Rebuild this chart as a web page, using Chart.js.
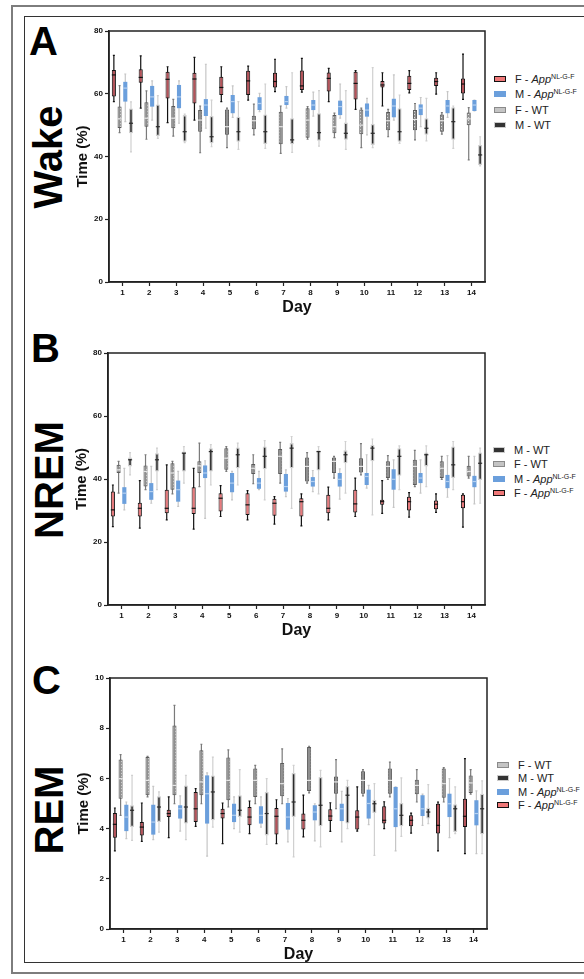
<!DOCTYPE html>
<html>
<head>
<meta charset="utf-8">
<script src="https://cdn.jsdelivr.net/npm/chart.js@4.4.1/dist/chart.umd.min.js"></script>
<style>
  body { margin: 0; background: #fff; font-family: "Liberation Sans", Arial, sans-serif; }
  #page { position: relative; width: 584px; height: 979px; overflow: hidden; }
  .outer { position: absolute; left: 11px; top: 5px; width: 620px; height: 965px; border: 2px solid #7d7d7d; }
  .inner { position: absolute; left: 24px; top: 16px; width: 620px; height: 945px; border: 1px solid #333; }
  .letter { position: absolute; font-weight: bold; font-size: 40px; line-height: 40px; color: #000; }
  .vname { position: absolute; font-weight: bold; font-size: 40px; color: #000; white-space: nowrap;
           transform: translate(-50%, -50%) rotate(-90deg); }
  .box { position: absolute; }
  .legend { position: absolute; font-size: 11px; color: #222; }
  .legend .row { white-space: nowrap; }
  .legend sup { font-size: 7px; vertical-align: 4px; line-height: 0; }
  .sw { display: inline-block; width: 12px; height: 6px; margin-right: 9px; box-sizing: border-box; vertical-align: 1px; }
  .sw.fapp { background: #ef7878; border: 1.5px solid #111; }
  .sw.mapp { background: #6b9fdc; }
  .sw.fwt { background: #c4c4c4; border: 1.5px solid #8a8a8a; }
  .sw.mwt { background: #333; border: 1px solid #ccc; }
</style>
</head>
<body>
<div id="page">
  <div class="outer"></div>
  <div class="inner"></div>

  <div class="letter" style="left:29px;top:21px">A</div>
  <div class="vname" style="left:48px;top:157px">Wake</div>
  <div class="box" style="left:74px;top:20px"><canvas id="chartA" width="413" height="297"></canvas></div>
  <div class="legend" style="left:494px;top:72px;line-height:15.4px">
    <div class="row"><span class="sw fapp"></span>F - <i>App</i><sup>NL-G-F</sup></div>
    <div class="row"><span class="sw mapp"></span>M - <i>App</i><sup>NL-G-F</sup></div>
    <div class="row"><span class="sw fwt"></span>F - WT</div>
    <div class="row"><span class="sw mwt"></span>M - WT</div>
  </div>

  <div class="letter" style="left:31px;top:328px">B</div>
  <div class="vname" style="left:49px;top:480px">NREM</div>
  <div class="box" style="left:73px;top:342px"><canvas id="chartB" width="414" height="298"></canvas></div>
  <div class="legend" style="left:493px;top:443px;line-height:14.4px">
    <div class="row"><span class="sw mwt"></span>M - WT</div>
    <div class="row"><span class="sw fwt"></span>F - WT</div>
    <div class="row"><span class="sw mapp"></span>M - <i>App</i><sup>NL-G-F</sup></div>
    <div class="row"><span class="sw fapp"></span>F - <i>App</i><sup>NL-G-F</sup></div>
  </div>

  <div class="letter" style="left:32px;top:660px">C</div>
  <div class="vname" style="left:49px;top:810px">REM</div>
  <div class="box" style="left:75px;top:667px"><canvas id="chartC" width="414" height="297"></canvas></div>
  <div class="legend" style="left:497px;top:759px;line-height:13.4px">
    <div class="row"><span class="sw fwt"></span>F - WT</div>
    <div class="row"><span class="sw mwt"></span>M - WT</div>
    <div class="row"><span class="sw mapp"></span>M - <i>App</i><sup>NL-G-F</sup></div>
    <div class="row"><span class="sw fapp"></span>F - <i>App</i><sup>NL-G-F</sup></div>
  </div>
</div>

<script>
// days on the x axis
var days = ['1', '2', '3', '4', '5', '6', '7', '8', '9', '10', '11', '12', '13', '14'];

// each entry: [min, q1, median, q3, max] per day
var wakeFApp = [[57.5,59.1,66,67.6,72.2],[55.4,63.5,65.2,67.8,72.1],[50.8,58.5,64.6,67,68.6],[51.6,56.9,64.7,66.7,71.6],[57.5,59.6,62,65.4,68.6],[58,59.6,64.1,67.3,68.8],[60.7,62,63.9,66.7,71],[60.5,61.2,62.5,67.4,71.3],[57.5,60.7,64.9,66.8,68.1],[55,58.2,63.3,67,67.4],[56.1,62,62.8,64.1,66.7],[60.3,61.2,63.3,65.7,67.4],[59.9,62.5,63.9,65.1,66.7],[58.2,60.1,63.1,64.9,72.6]];
var wakeFWT = [[47.6,49.1,52,55.9,62.6],[45.5,49.5,52.2,57.3,60.9],[46.5,49,52.2,56.1,58.2],[41.2,47.9,51.6,54.8,56.1],[42.8,46.9,49.5,55,55.4],[46.9,48.7,51.4,53,56.7],[41,43.9,49.5,54.3,56.1],[45.5,46,51.6,55.4,55.9],[46,47.4,49.5,53.2,53.8],[42.8,47.1,50,55,55.4],[46.3,48.4,51.4,54.2,55],[45.3,48.4,51.8,54.8,56.9],[47.1,47.9,51.4,53.4,54],[38.9,50,52,54,55.6]];
var wakeMApp = [[51.1,57.5,61.8,63.8,66.3],[51.6,55.9,59,62.5,64.1],[50.6,55.4,59,62.8,64.1],[49,52.9,56.4,58.3,69.4],[52.5,53.8,57.5,59.6,62.5],[54.3,54.8,56.9,58.9,60.1],[55.4,56.4,57.5,59.3,62.3],[52.9,54.8,56.4,58,60.5],[52.2,53.2,55.9,57.8,63.1],[46.9,52.7,54.8,56.9,58.5],[51.6,52.5,56.1,58.4,66],[49.5,53.2,55.4,56.6,58.8],[52.5,53.8,56.1,58,60.7],[54.5,54.5,56.4,58,58]];
var wakeMWT = [[41.5,47.4,50.6,55.3,57.4],[45.8,46.5,49.5,56.6,59.4],[44.4,44.7,47.9,53.2,53.5],[43.1,44.2,46.3,52.9,58],[42.3,44.7,47.9,52.7,57.5],[42.6,44,47.9,53.4,63.1],[41.3,43.9,45.3,52.2,66.7],[43.3,45,47.6,53.8,61],[42.3,45.3,47.4,50.8,61],[42.8,43.7,47.4,50.4,68.3],[44.2,44.7,47.9,55.4,59.6],[45,46.9,49,52.2,58.5],[42.6,45.3,51.1,55.7,56.1],[37,37.3,40.5,43.7,46.3]];

var nremFApp = [[24.9,28.1,30.2,36,38.1],[24.4,28.1,30.7,32.5,39.5],[27,29.1,30.7,36.6,44.5],[24.1,28.9,30.7,37.4,43.4],[28.1,29.7,33.9,35.5,37.9],[27,28.6,31.8,35.5,36.3],[25.7,28.3,32.3,33.7,34.4],[25.1,28.1,32.8,33.9,35.3],[27,29.1,30.7,35,37.4],[28.1,29.4,32.1,36.6,40.3],[29.1,31.8,32.8,33.4,39.5],[27.9,30,32.8,34.4,35.7],[29.4,30.4,32,33.2,35.3],[24.7,30.7,32.8,35,35.3]];
var nremFWT = [[35.5,41.9,42.9,44.5,45.6],[36.6,37.6,42.4,44.3,47.7],[35.3,36.6,41.9,45,45.6],[37.6,41.9,44.2,45.6,51.4],[42.4,42.9,46.6,49.8,50.3],[38.5,41.6,43.4,44.8,47.7],[38.7,41.6,47.2,49.5,51.6],[38.7,39.2,44,46.8,48.4],[40.3,41.9,45.6,46.8,47.2],[41.3,42.1,44,46.6,51.2],[39.9,40.3,44,45.6,47.4],[37.6,38.1,44,46.1,49.1],[39.9,40.3,43.4,45.6,47.2],[40.3,40.8,42.4,44.2,47.2]];
var nremMApp = [[30.2,32.1,35.5,37.4,43.4],[32.3,33.4,36,38.7,44],[31.3,32.8,36.6,39.5,42.4],[27.5,40.3,41.9,44.3,45.8],[33.4,35.8,38.7,41.9,42.4],[36.6,36.9,38.7,40.3,42.4],[34.4,36,37.6,41.6,42.9],[36,37.6,39.2,40.6,42.7],[33.6,37.6,39.9,41.9,43.2],[37.1,38.1,40.8,41.9,47.7],[31,36.6,39.9,43.1,46.1],[35.5,38.7,40.3,41.9,46.1],[34.2,37.1,39.2,41.3,47.4],[32.1,37.4,39.2,41,47.2]];
var nremMWT = [[41.3,44,46.1,46.8,48.4],[36.6,42.4,46.1,48.2,49.8],[38.7,42.4,48.2,48.7,50.3],[38.1,42.4,48.7,49.8,50.9],[38.1,43.4,47.7,50,51.4],[33.4,43.1,47.2,50.3,52.2],[30.7,43.4,49.8,51.4,53.5],[35.3,42.7,48.7,49.1,50.3],[35.5,45,47.7,49.1,51.9],[28.6,45.6,49.8,50.9,52.7],[36.6,41,47.2,49.8,50.5],[37.6,44,47.7,48.4,50.5],[36.6,40.3,44.5,50.3,51.9],[32.3,39.7,45,48.4,49.8]];

var remFApp = [[3.11,3.64,4.17,4.62,4.82],[3.49,3.73,4.06,4.26,5.02],[3.64,4.46,4.6,4.75,5.26],[4.09,4.26,4.79,5.46,5.59],[3.4,4.4,4.6,4.79,5.02],[3.8,4.13,4.46,4.86,5.1],[3.4,3.76,4.49,4.82,5.15],[3.67,3.96,4.33,4.6,5.33],[3.89,4.3,4.5,4.77,5.03],[3.9,3.96,4.46,4.73,5.66],[4,4.2,4.33,4.89,5.07],[3.82,4.09,4.33,4.53,4.62],[3.11,3.8,4.13,4.99,5.06],[3,4.06,4.49,5.19,6.79]];
var remFWT = [[4.53,5.19,5.99,6.75,6.95],[5.26,5.33,5.92,6.85,6.88],[4.99,5.33,5.72,8.11,8.91],[4.99,5.33,5.86,7.12,7.36],[4.86,5.13,5.92,6.83,7.14],[4.99,5.26,5.92,6.39,6.52],[4.99,5.29,5.79,6.61,7.18],[5.42,5.5,5.92,7.25,7.28],[4.79,5.39,5.86,6.08,6.75],[5.3,5.39,5.92,6.28,6.35],[5.26,5.39,5.92,6.39,6.65],[5.06,5.37,5.72,5.95,6.35],[5.06,5.23,5.79,6.39,6.43],[5.37,5.42,5.82,6.12,6.35]];
var remMApp = [[3.6,3.9,4.46,4.95,5.06],[3.56,3.76,4.26,4.95,5.68],[3.9,4.4,4.79,4.93,5.3],[2.9,4.2,5.39,6.12,6.22],[4,4.26,4.53,4.99,5.26],[4.06,4.2,4.53,4.89,5.26],[3.47,3.96,4.46,5.02,5.2],[3.51,4.33,4.66,4.93,4.99],[3.47,4.3,4.79,4.99,5.48],[4.16,4.4,5,5.55,5.72],[3.11,4.06,4.79,5.66,5.66],[4.13,4.5,4.79,5.33,5.37],[3.64,4.46,4.99,5.39,5.99],[3,4.13,4.6,5.13,5.5]];
var remMWT = [[3.53,4.06,4.73,4.93,6.12],[3.86,4.26,4.86,5.29,5.46],[3.56,4.2,4.86,5.72,6.12],[4.06,4.33,5.46,6.12,6.85],[3.86,4.46,4.73,5.33,6.35],[3.37,3.73,4.6,5.46,5.99],[2.87,4.46,5.06,6.22,6.52],[3.27,4.09,4.93,6.06,6.32],[4,4.2,5.33,5.7,5.92],[2.93,4.62,4.99,5.15,5.79],[3.69,4.09,4.53,5.02,6.02],[4.2,4.4,4.66,4.83,5.75],[3.8,3.86,4.79,4.97,5.66],[3,3.77,4.79,5.39,5.9]];

// y axis ranges: min, max, step
var wakeTicks = [0, 80, 20];
var nremTicks = [0, 80, 20];
var remTicks = [0, 10, 2];

Chart.defaults.font.family = '"Liberation Sans", Arial, sans-serif';
Chart.defaults.animation = false;

function dottedFill(base, dot) {
    var c = document.createElement('canvas');
    c.width = 3; c.height = 3;
    var g = c.getContext('2d');
    g.fillStyle = base;
    g.fillRect(0, 0, 3, 3);
    g.fillStyle = dot;
    g.fillRect(1, 1, 1, 1);
    return g.createPattern(c, 'repeat');
}

// whiskers behind the boxes, medians on top
var boxPlugin = {
    id: 'boxes',
    beforeDatasetsDraw: function (chart) {
        var ctx = chart.ctx, y = chart.scales.y;
        chart.data.datasets.forEach(function (ds, i) {
            var meta = chart.getDatasetMeta(i);
            ctx.save();
            ctx.strokeStyle = ds.whiskerColor;
            ctx.lineWidth = 1.2;
            meta.data.forEach(function (bar, j) {
                var s = ds.stats[j];
                var lo = y.getPixelForValue(s[0]), hi = y.getPixelForValue(s[4]);
                ctx.beginPath();
                ctx.moveTo(bar.x, lo); ctx.lineTo(bar.x, hi);
                ctx.moveTo(bar.x - 1, lo); ctx.lineTo(bar.x + 1, lo);
                ctx.moveTo(bar.x - 1, hi); ctx.lineTo(bar.x + 1, hi);
                ctx.stroke();
            });
            ctx.restore();
        });
    },
    afterDatasetsDraw: function (chart) {
        var ctx = chart.ctx, y = chart.scales.y;
        chart.data.datasets.forEach(function (ds, i) {
            var meta = chart.getDatasetMeta(i);
            ctx.save();
            ctx.strokeStyle = ds.medianColor;
            ctx.lineWidth = 1.2;
            meta.data.forEach(function (bar, j) {
                var m = y.getPixelForValue(ds.stats[j][2]);
                ctx.beginPath();
                ctx.moveTo(bar.x - bar.width / 2, m);
                ctx.lineTo(bar.x + bar.width / 2, m);
                ctx.stroke();
            });
            ctx.restore();
        });
    }
};

var framePlugin = {
    id: 'frame',
    afterDraw: function (chart) {
        var a = chart.chartArea, ctx = chart.ctx;
        ctx.save();
        ctx.strokeStyle = '#222';
        ctx.lineWidth = 1.5;
        ctx.strokeRect(a.left, a.top, a.right - a.left, a.bottom - a.top);
        ctx.restore();
    }
};

function boxSet(label, stats, bg, border, bw, whisker, median) {
    return {
        label: label,
        data: stats.map(function (s) { return [s[1], s[3]]; }),
        stats: stats,
        backgroundColor: bg,
        borderColor: border,
        borderWidth: bw,
        borderSkipped: false,
        whiskerColor: whisker,
        medianColor: median,
        categoryPercentage: 0.85,
        barPercentage: 0.72
    };
}

function makeChart(id, ticks, fApp, fWT, mApp, mWT, red) {
    var ctx = document.getElementById(id).getContext('2d');
    return new Chart(ctx, {
        type: 'bar',
        data: {
            labels: days,
            datasets: [
                boxSet('F - AppNL-G-F', fApp, red, '#111', 1, '#111', '#111'),
                boxSet('F - WT', fWT, dottedFill('#8e8e8e', '#dcdcdc'), '#5a5a5a', 1, '#7a7a7a', '#e6e6e6'),
                boxSet('M - AppNL-G-F', mApp, '#6b9fdc', '#6b9fdc', 0, '#c6c6c6', '#b5d0f0'),
                boxSet('M - WT', mWT, '#2b2b2b', '#cfcfcf', 1.3, '#d0d0d0', '#2b2b2b')
            ]
        },
        options: {
            responsive: false,
            layout: { padding: { top: 11, right: 2, left: 0, bottom: 0 } },
            plugins: { legend: { display: false }, tooltip: { enabled: false } },
            scales: {
                x: {
                    ticks: { font: { size: 8, weight: 'bold' }, color: '#111', padding: 2, maxRotation: 0, autoSkip: false },
                    grid: { drawOnChartArea: false, offset: false, tickLength: 4, tickColor: '#222', tickWidth: 1.2 },
                    border: { color: '#222', width: 1.5 },
                    title: { display: true, text: 'Day', font: { size: 16, weight: 'bold' }, color: '#111', padding: 0 },
                    afterFit: function (s) { s.height = 35; }
                },
                y: {
                    min: ticks[0], max: ticks[1],
                    ticks: { stepSize: ticks[2], font: { size: 8, weight: 'bold' }, color: '#111', padding: 2 },
                    grid: { drawOnChartArea: false, tickLength: 4, tickColor: '#222', tickWidth: 1.2 },
                    border: { color: '#222', width: 1.5 },
                    title: { display: true, text: 'Time (%)', font: { size: 15, weight: 'bold' }, color: '#111', padding: 0 },
                    afterFit: function (s) { s.width = 35; }
                }
            }
        },
        plugins: [boxPlugin, framePlugin]
    });
}

makeChart('chartA', wakeTicks, wakeFApp, wakeFWT, wakeMApp, wakeMWT, '#b5535a');
makeChart('chartB', nremTicks, nremFApp, nremFWT, nremMApp, nremMWT, '#e87a7d');
makeChart('chartC', remTicks, remFApp, remFWT, remMApp, remMWT, '#b5535a');
</script>
</body>
</html>
